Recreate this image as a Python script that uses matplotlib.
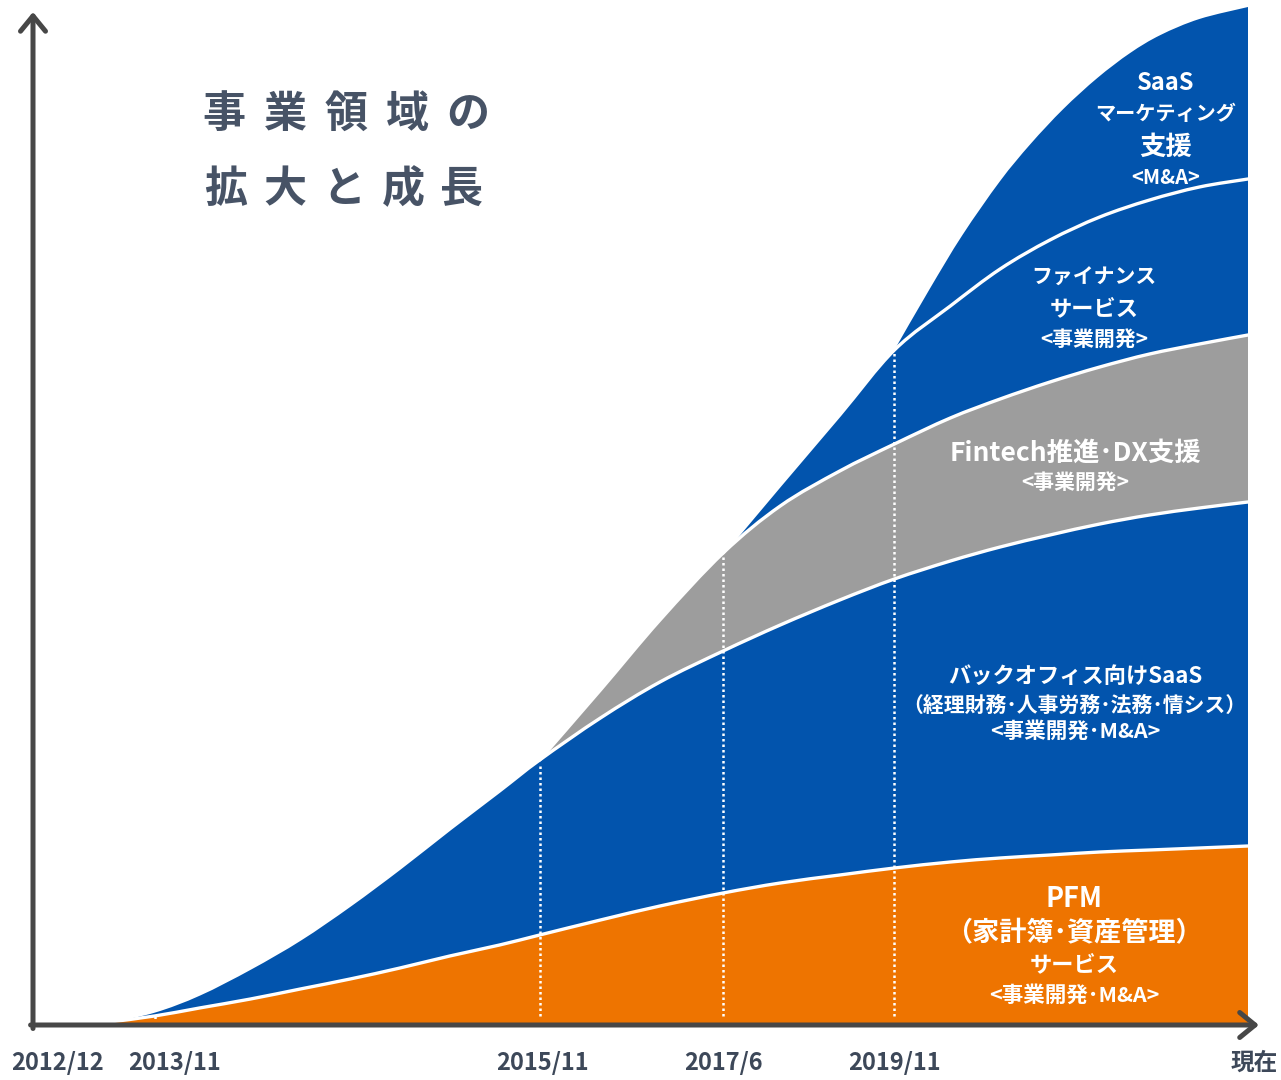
import numpy as np
import matplotlib
matplotlib.use("Agg")
import matplotlib.pyplot as plt
from matplotlib.path import Path
from matplotlib.patches import PathPatch

plt.rcParams['font.family'] = ['Noto Sans CJK JP', 'DejaVu Sans']

# colours
BLUE = '#0254ad'
ORANGE = '#ee7400'
GRAY = '#9d9d9d'
AXIS = '#474747'
TEXT = '#3d4859'

# timeline position (0 = 2012/12, 100 = 現在) and height of each layer top
T_MAIN = [4.3, 6.3, 10.0, 13.7, 17.9, 22.0, 26.1, 30.2, 34.3, 38.4, 41.7, 46.7,
          51.6, 56.8, 61.5, 66.4, 70.9, 75.5, 79.6, 83.7, 87.8, 91.9, 96.0, 100.0]
PFM_TOP = [0.0, 0.3, 0.9, 1.7, 2.6, 3.6, 4.6, 5.7, 6.9, 8.0, 9.0, 10.5,
           11.9, 13.2, 14.2, 15.0, 15.7, 16.3, 16.7, 17.0, 17.3, 17.5, 17.7, 17.9]
BACKOFFICE_TOP = [0.0, 0.4, 1.4, 3.1, 5.7, 8.6, 12.0, 15.7, 19.6, 23.4, 26.5, 30.7,
                  34.3, 37.4, 40.0, 42.5, 44.6, 46.4, 47.8, 49.0, 50.1, 51.0, 51.7, 52.3]

T_FINTECH = [41.7, 46.7, 51.6, 56.8, 61.5, 66.4, 70.9, 75.5, 79.6, 83.7, 87.8, 91.9, 96.0, 100.0]
FINTECH_TOP = [26.5, 33.5, 40.5, 47.2, 51.9, 55.4, 58.1, 60.7, 62.6, 64.3, 65.8, 67.1, 68.1, 69.0]

T_FINANCE = [56.8, 61.5, 66.4, 70.9, 75.5, 79.6, 83.7, 87.8, 91.9, 96.0, 100.0]
FINANCE_TOP = [47.2, 54.0, 61.0, 67.5, 71.9, 75.6, 78.5, 80.8, 82.5, 83.8, 84.6]

T_SAAS = [70.9, 73.8, 76.5, 79.6, 82.1, 84.8, 87.6, 90.3, 92.8, 96.0, 100.0]
SAAS_TOP = [67.5, 73.6, 79.0, 84.4, 88.1, 91.6, 94.7, 97.2, 99.0, 100.6, 101.8]

TICK_T = [0.0, 10.0, 41.7, 56.8, 70.9, 100.0]
TICK_LABELS = ['2012/12', '2013/11', '2015/11', '2017/6', '2019/11', '現在']
TICK_SHIFT = [25, 20, 3, 0, 0, 6]  # px nudges of the labels

TITLE = ['事業領域の', '拡大と成長']

LABELS = [
    # x px, y px, text, size
    (1166, 83, 'SaaS', 17),
    (1166, 114, 'マーケティング', 14.5),
    (1166, 147, '支援', 19),
    (1166, 178, '<M&A>', 14.5),
    (1094, 277, 'ファイナンス', 15),
    (1094, 309, 'サービス', 16),
    (1094, 339, '<事業開発>', 15),
    (1075, 453, 'Fintech推進･DX支援', 19),
    (1075, 482, '<事業開発>', 15),
    (1075, 676, 'バックオフィス向けSaaS', 16),
    (1074, 705, '（経理財務･人事労務･法務･情シス）', 15),
    (1075, 731, '<事業開発･M&A>', 15.5),
    (1074, 899, 'PFM', 19.5),
    (1074, 933, '（家計簿･資産管理）', 19.5),
    (1074, 965, 'サービス', 16),
    (1074, 995, '<事業開発･M&A>', 15.5),
]


def smooth(xs, ys):
    # Catmull-Rom through the read points, as cubic bezier pieces
    p = np.column_stack([xs, ys]).astype(float)
    ext = np.vstack([p[0], p, p[-1]])
    verts, codes = [p[0]], [Path.MOVETO]
    for i in range(len(p) - 1):
        p0, p1, p2, p3 = ext[i], ext[i + 1], ext[i + 2], ext[i + 3]
        verts += [p1 + (p2 - p0) / 6, p2 - (p3 - p1) / 6, p2]
        codes += [Path.CURVE4] * 3
    return verts, codes


def layer(ax, xs, ys, color, z):
    verts, codes = smooth(xs, ys)
    verts += [(xs[-1], 0), (xs[0], 0), (xs[0], ys[0])]
    codes += [Path.LINETO, Path.LINETO, Path.CLOSEPOLY]
    ax.add_patch(PathPatch(Path(verts, codes), facecolor=color, lw=0, zorder=z))


def edge(ax, xs, ys):
    verts, codes = smooth(xs, ys)
    ax.add_patch(PathPatch(Path(verts, codes), facecolor='none', edgecolor='white',
                           lw=2.4, capstyle='round', zorder=6))


W, H = 1281, 1080
fig = plt.figure(figsize=(W / 100, H / 100), dpi=100)
ax = fig.add_axes([0, 0, 1, 1])
ax.set_xlim(-33 / 12.15, (W - 33) / 12.15)
ax.set_ylim(-5.5, 102.5)
ax.axis('off')

# layers, drawn from the outermost inwards
layer(ax, T_SAAS, SAAS_TOP, BLUE, 1)
layer(ax, T_FINANCE, FINANCE_TOP, BLUE, 2)
layer(ax, T_FINTECH, FINTECH_TOP, GRAY, 3)
layer(ax, T_MAIN, BACKOFFICE_TOP, BLUE, 4)
layer(ax, T_MAIN, PFM_TOP, ORANGE, 5)

# white separators
edge(ax, T_MAIN, PFM_TOP)
edge(ax, T_MAIN, BACKOFFICE_TOP)
edge(ax, T_FINTECH, FINTECH_TOP)
edge(ax, T_FINANCE, FINANCE_TOP)

# dotted milestone lines
tops = [np.interp(10.0, T_MAIN, PFM_TOP), np.interp(41.7, T_MAIN, BACKOFFICE_TOP),
        np.interp(56.8, T_FINTECH, FINTECH_TOP), np.interp(70.9, T_FINANCE, FINANCE_TOP)]
for t, top in zip(TICK_T[1:5], tops):
    ax.plot([t, t], [0.9, top - 0.3], color='white', lw=1.8, ls=(0, (1, 1.2)), zorder=7)

# axes arrows
arrow = dict(arrowstyle='->, head_length=0.55, head_width=0.45',
             color=AXIS, lw=3.6, mutation_scale=20, shrinkA=0, shrinkB=0)
ax.annotate('', xy=(0, 101.3), xytext=(0, -0.35), arrowprops=arrow, zorder=8)
ax.annotate('', xy=(100.9, 0), xytext=(-0.2, 0), arrowprops=arrow, zorder=8)

# tick labels
for t, lbl, dx in zip(TICK_T, TICK_LABELS, TICK_SHIFT):
    ax.annotate(lbl, (t, 0), xytext=(dx, -38), textcoords='offset pixels',
                ha='center', va='center', fontsize=17, color=TEXT, fontweight='bold')

# title, one glyph at a time for the wide spacing
for line, y, x0, pitch in zip(TITLE, [114, 189], [224, 226], [61, 59]):
    for i, ch in enumerate(line):
        fig.text((x0 + i * pitch) / W, 1 - y / H, ch, ha='center', va='center',
                 fontsize=31, fontweight='bold', color='#475366')

# layer labels
for x, y, s, size in LABELS:
    fig.text(x / W, 1 - y / H, s, ha='center', va='center', fontsize=size,
             color='white', fontweight='bold', zorder=10)

fig.savefig('out.png', dpi=100)
